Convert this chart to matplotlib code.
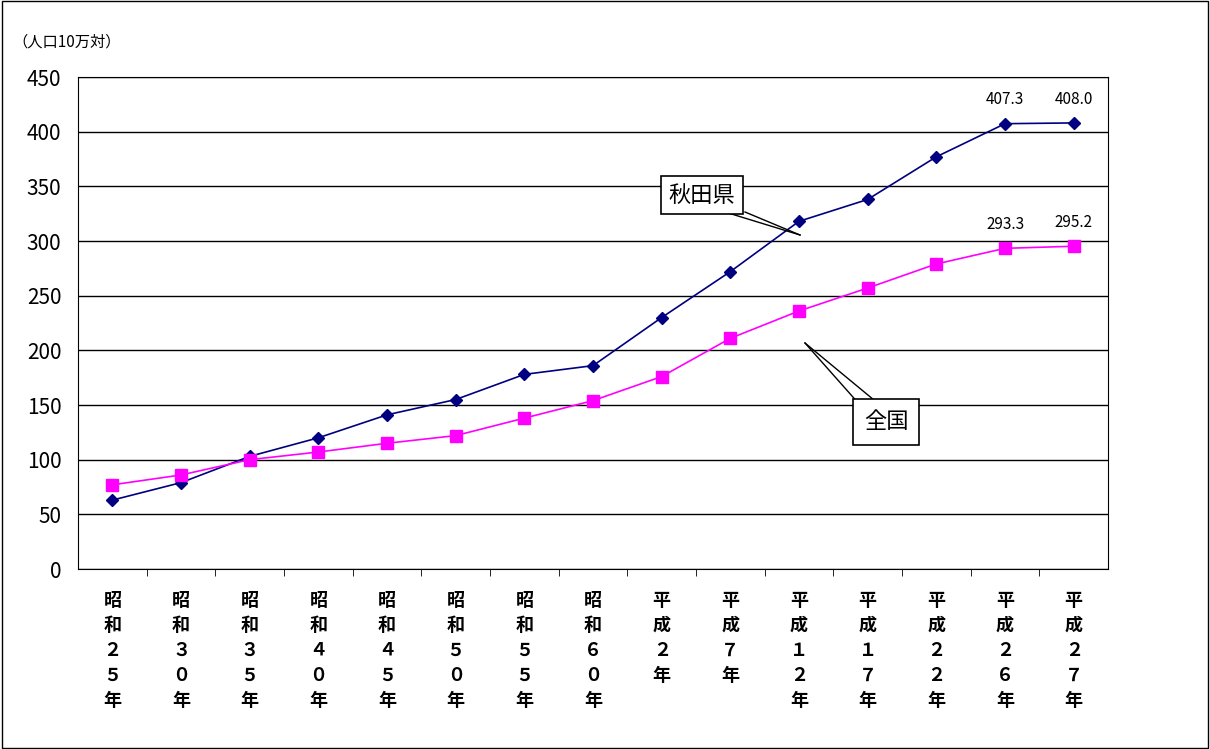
import matplotlib.pyplot as plt
import numpy as np

plt.rcParams['font.family'] = ['Noto Sans CJK JP', 'DejaVu Sans']

eras = ['昭和', '昭和', '昭和', '昭和', '昭和', '昭和', '昭和', '昭和',
        '平成', '平成', '平成', '平成', '平成', '平成', '平成']
years = ['２５', '３０', '３５', '４０', '４５', '５０', '５５', '６０',
         '２', '７', '１２', '１７', '２２', '２６', '２７']
akita = [63, 79, 103, 120, 141, 155, 178, 186, 230, 272, 318, 338, 377, 407.3, 408.0]
japan = [77, 86, 100, 107, 115, 122, 138, 154, 176, 211, 236, 257, 279, 293.3, 295.2]

W, H = 1210, 749
fig = plt.figure(figsize=(W / 100, H / 100), dpi=100)
ax = fig.add_axes([78 / W, 1 - 569 / H, (1108 - 78) / W, (569 - 77) / H])

x = np.arange(len(akita))
ax.plot(x, akita, color='#000080', marker='D', markersize=6, linewidth=1.2, zorder=3)
ax.plot(x, japan, color='#FF00FF', marker='s', markersize=8, linewidth=1.2, zorder=3)

ax.set_xlim(-0.5, len(x) - 0.5)
ax.set_ylim(0, 450)
ax.set_yticks(range(0, 451, 50))
ax.tick_params(axis='y', labelsize=15, length=0, pad=12)
ax.grid(axis='y', color='black', linewidth=1)
ax.set_axisbelow(True)
ax.set_xticks([])
ax.set_xticks(np.arange(0.5, len(x) - 0.5), minor=True)
ax.tick_params(axis='x', which='minor', length=5, direction='out')
ax.set_xticklabels([], minor=True)
for s in ax.spines.values():
    s.set_color('black')

for i in x:
    label = '\n'.join(list(eras[i]) + list(years[i]) + ['年'])
    ax.text(i, -20, label, ha='center', va='top', fontsize=13, linespacing=1.4,
            fontweight='bold')

for i in (13, 14):
    ax.text(i, akita[i] + 14, f'{akita[i]:.1f}', ha='center', va='bottom', fontsize=11)
    ax.text(i, japan[i] + 14, f'{japan[i]:.1f}', ha='center', va='bottom', fontsize=11)

fig.text(12 / W, 1 - 42 / H, '（人口10万対）', fontsize=11, va='center')

def fx(p):
    return p / W

def fy(p):
    return 1 - p / H

# callouts
fig.add_artist(plt.Line2D([fx(745), fx(800)], [fy(212), fy(235)], color='black', lw=1))
fig.add_artist(plt.Line2D([fx(725), fx(800)], [fy(212), fy(235)], color='black', lw=1))
fig.text(fx(702), fy(195), '秋田県', fontsize=16, ha='center', va='center',
         bbox=dict(boxstyle='square,pad=0.35', fc='white', ec='black', lw=1.2))
fig.add_artist(plt.Line2D([fx(805), fx(860)], [fy(343), fy(405)], color='black', lw=1))
fig.add_artist(plt.Line2D([fx(805), fx(880)], [fy(343), fy(405)], color='black', lw=1))
fig.text(fx(886), fy(422), '全国', fontsize=16, ha='center', va='center',
         bbox=dict(boxstyle='square,pad=0.5', fc='white', ec='black', lw=1.2))

fig.add_artist(plt.Rectangle((0.002, 0.002), 0.996, 0.996, transform=fig.transFigure,
                             fill=False, ec='black', lw=1))

fig.savefig('out.png', dpi=100)
